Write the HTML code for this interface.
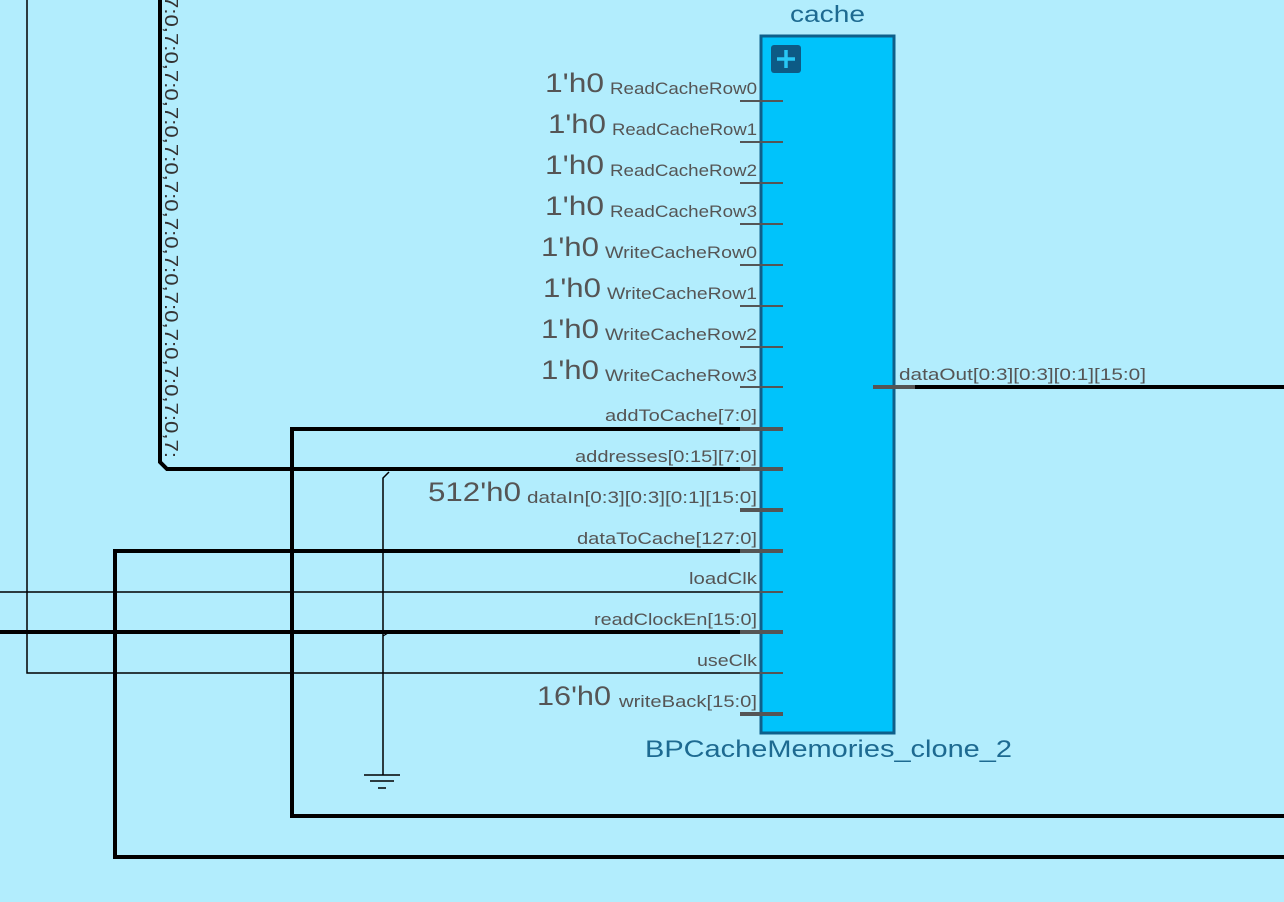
<!DOCTYPE html>
<html><head><meta charset="utf-8"><style>
html,body{margin:0;padding:0;background:#b2edfd;}
svg{display:block;}
text{font-family:"Liberation Sans",sans-serif;}
</style></head><body>
<svg width="1284" height="902" viewBox="0 0 1284 902" xmlns="http://www.w3.org/2000/svg">
<rect width="1284" height="902" fill="#b2edfd"/>
<g stroke="#000" fill="none">
  <polyline points="160,0 160,462 167,469 783,469" stroke-width="4"/>
  <polyline points="783,429 292,429 292,816 1284,816" stroke-width="4"/>
  <polyline points="783,551 115,551 115,857 1284,857" stroke-width="4"/>
  <line x1="0" y1="592" x2="783" y2="592" stroke-width="1.5"/>
  <line x1="0" y1="632" x2="783" y2="632" stroke-width="4"/>
  <polyline points="27,0 27,673 783,673" stroke-width="1.5"/>
  <polyline points="389,472 383,478 383,775" stroke-width="1.5"/>
  <path d="M383,636 l5,-3" stroke-width="1.2"/>
  <line x1="364" y1="775" x2="400" y2="775" stroke-width="1.5"/>
  <line x1="370" y1="781" x2="394" y2="781" stroke-width="1.5"/>
  <line x1="378" y1="788" x2="386" y2="788" stroke-width="1.5"/>
  <line x1="915" y1="387" x2="1284" y2="387" stroke-width="4"/>
</g>
<text transform="translate(165,-4) rotate(90)" font-size="18" fill="#333" textLength="462" lengthAdjust="spacingAndGlyphs">7:0,7:0,7:0,7:0,7:0,7:0,7:0,7:0,7:0,7:0,7:0,7:0,7:</text>
<rect x="761" y="36" width="133" height="697" fill="#00c3fb" stroke="#0e5f8a" stroke-width="3"/>
<rect x="771" y="45" width="30" height="28" rx="3" fill="#0d5a85"/>
<path d="M786,50 v18 M777,59 h18" stroke="#27c8f5" stroke-width="3.5"/>
<text x="790" y="22" font-size="23" fill="#1d6a91" textLength="75" lengthAdjust="spacingAndGlyphs">cache</text>
<text x="645" y="757" font-size="24" fill="#1d6a91" textLength="367" lengthAdjust="spacingAndGlyphs">BPCacheMemories_clone_2</text>
<g stroke="#555" stroke-width="2">
  <line x1="740" y1="101" x2="783" y2="101"/>
  <line x1="740" y1="142" x2="783" y2="142"/>
  <line x1="740" y1="183" x2="783" y2="183"/>
  <line x1="740" y1="224" x2="783" y2="224"/>
  <line x1="740" y1="265" x2="783" y2="265"/>
  <line x1="740" y1="306" x2="783" y2="306"/>
  <line x1="740" y1="347" x2="783" y2="347"/>
  <line x1="740" y1="387" x2="783" y2="387"/>
  <line x1="740" y1="592" x2="783" y2="592"/>
  <line x1="740" y1="673" x2="783" y2="673"/>
</g>
<g stroke="#555" stroke-width="4">
  <line x1="740" y1="429" x2="783" y2="429"/>
  <line x1="740" y1="469" x2="783" y2="469"/>
  <line x1="740" y1="510" x2="783" y2="510"/>
  <line x1="740" y1="551" x2="783" y2="551"/>
  <line x1="740" y1="632" x2="783" y2="632"/>
  <line x1="740" y1="714" x2="783" y2="714"/>
  <line x1="873" y1="387" x2="915" y2="387"/>
</g>
<g font-size="17" fill="#555">
  <text x="610" y="94" textLength="147" lengthAdjust="spacingAndGlyphs">ReadCacheRow0</text>
  <text x="612" y="135" textLength="145" lengthAdjust="spacingAndGlyphs">ReadCacheRow1</text>
  <text x="610" y="176" textLength="147" lengthAdjust="spacingAndGlyphs">ReadCacheRow2</text>
  <text x="610" y="217" textLength="147" lengthAdjust="spacingAndGlyphs">ReadCacheRow3</text>
  <text x="605" y="258" textLength="152" lengthAdjust="spacingAndGlyphs">WriteCacheRow0</text>
  <text x="607" y="299" textLength="150" lengthAdjust="spacingAndGlyphs">WriteCacheRow1</text>
  <text x="605" y="340" textLength="152" lengthAdjust="spacingAndGlyphs">WriteCacheRow2</text>
  <text x="605" y="381" textLength="152" lengthAdjust="spacingAndGlyphs">WriteCacheRow3</text>
  <text x="605" y="421" textLength="152" lengthAdjust="spacingAndGlyphs">addToCache[7:0]</text>
  <text x="575" y="462" textLength="182" lengthAdjust="spacingAndGlyphs">addresses[0:15][7:0]</text>
  <text x="527" y="503" textLength="230" lengthAdjust="spacingAndGlyphs">dataIn[0:3][0:3][0:1][15:0]</text>
  <text x="577" y="544" textLength="180" lengthAdjust="spacingAndGlyphs">dataToCache[127:0]</text>
  <text x="689" y="584" textLength="68" lengthAdjust="spacingAndGlyphs">loadClk</text>
  <text x="594" y="625" textLength="163" lengthAdjust="spacingAndGlyphs">readClockEn[15:0]</text>
  <text x="697" y="666" textLength="60" lengthAdjust="spacingAndGlyphs">useClk</text>
  <text x="619" y="707" textLength="138" lengthAdjust="spacingAndGlyphs">writeBack[15:0]</text>
  <text x="899" y="380" textLength="247" lengthAdjust="spacingAndGlyphs">dataOut[0:3][0:3][0:1][15:0]</text>
</g>
<g font-size="27" fill="#555">
  <text x="545" y="92" textLength="59" lengthAdjust="spacingAndGlyphs">1'h0</text>
  <text x="548" y="133" textLength="58" lengthAdjust="spacingAndGlyphs">1'h0</text>
  <text x="545" y="174" textLength="59" lengthAdjust="spacingAndGlyphs">1'h0</text>
  <text x="545" y="215" textLength="59" lengthAdjust="spacingAndGlyphs">1'h0</text>
  <text x="541" y="256" textLength="58" lengthAdjust="spacingAndGlyphs">1'h0</text>
  <text x="543" y="297" textLength="58" lengthAdjust="spacingAndGlyphs">1'h0</text>
  <text x="541" y="338" textLength="58" lengthAdjust="spacingAndGlyphs">1'h0</text>
  <text x="541" y="379" textLength="58" lengthAdjust="spacingAndGlyphs">1'h0</text>
  <text x="428" y="501" textLength="93" lengthAdjust="spacingAndGlyphs">512'h0</text>
  <text x="537" y="705" textLength="74" lengthAdjust="spacingAndGlyphs">16'h0</text>
</g>
</svg>
</body></html>
